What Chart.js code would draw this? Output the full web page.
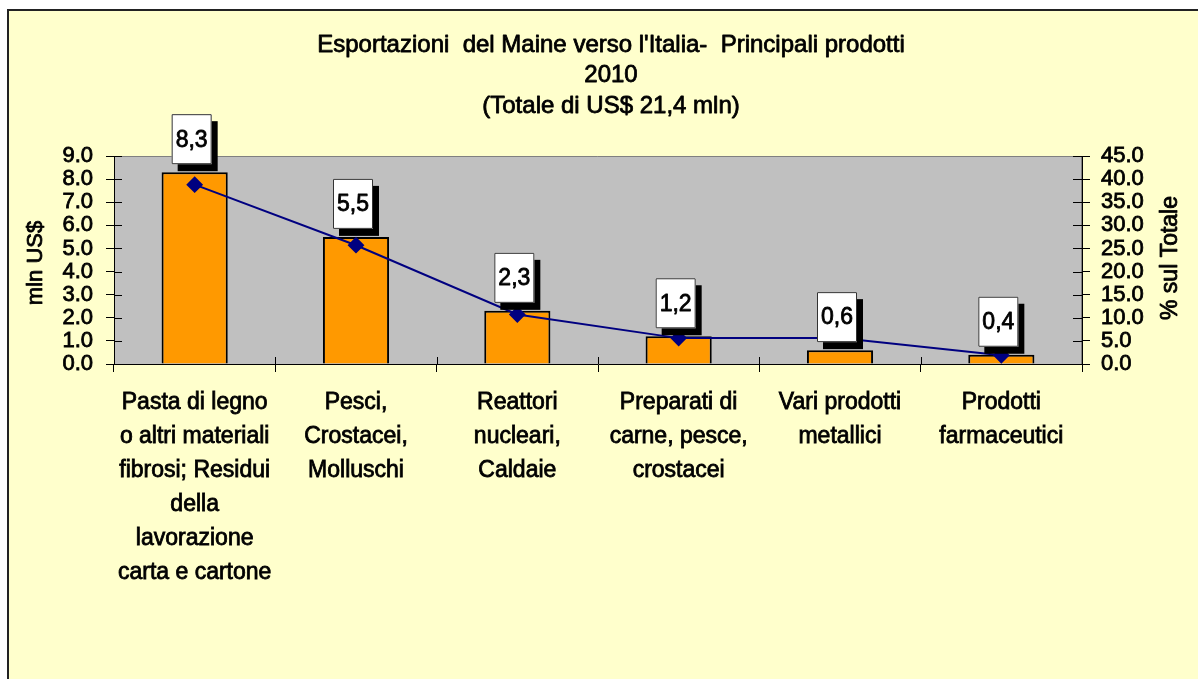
<!DOCTYPE html>
<html>
<head>
<meta charset="utf-8">
<title>Esportazioni del Maine verso l'Italia</title>
<script src="https://cdn.jsdelivr.net/npm/chart.js@4/dist/chart.umd.min.js"></script>
<style>
  html, body { margin: 0; padding: 0; background: #fff; }
  canvas { display: block; }
</style>
</head>
<body>
<canvas id="grafico" width="1198" height="679"></canvas>
<script>
// dati
const categorie = [
  ['Pasta di legno', 'o altri materiali', 'fibrosi; Residui', 'della', 'lavorazione', 'carta e cartone'],
  ['Pesci,', 'Crostacei,', 'Molluschi'],
  ['Reattori', 'nucleari,', 'Caldaie'],
  ['Preparati di', 'carne, pesce,', 'crostacei'],
  ['Vari prodotti', 'metallici'],
  ['Prodotti', 'farmaceutici']
]
const valoriMln = [8.3, 5.5, 2.3, 1.2, 0.6, 0.4]
const percentuali = [38.8, 25.7, 10.7, 5.6, 5.6, 1.9]
const etichette = ['8,3', '5,5', '2,3', '1,2', '0,6', '0,4']
const titolo = ["Esportazioni  del Maine verso l'Italia-  Principali prodotti", '2010', '(Totale di US$ 21,4 mln)']

const FONT = "'Liberation Sans', Arial, sans-serif"
const SPESSORE = 0.8 // ispessisce il testo come nell'originale

function testo(ctx, t, x, y) {
  ctx.strokeText(t, x, y)
  ctx.fillText(t, x, y)
}

// sfondo giallo, cornice e area del grafico grigia
const sfondo = {
  id: 'sfondo',
  beforeDraw(chart) {
    const ctx = chart.ctx
    const a = chart.chartArea
    ctx.save()
    ctx.fillStyle = '#fff'
    ctx.fillRect(0, 0, chart.width, chart.height)
    ctx.fillStyle = '#FFFFCC'
    ctx.fillRect(8, 10, chart.width - 8, chart.height - 10)
    ctx.strokeStyle = '#222'
    ctx.lineWidth = 2
    ctx.beginPath()
    ctx.moveTo(8, chart.height)
    ctx.lineTo(8, 10)
    ctx.lineTo(chart.width, 10)
    ctx.stroke()
    ctx.fillStyle = '#C0C0C0'
    ctx.fillRect(a.left, a.top, a.right - a.left, a.bottom - a.top)
    ctx.strokeStyle = '#808080'
    ctx.lineWidth = 1
    ctx.beginPath()
    ctx.moveTo(a.left, a.top + 0.5)
    ctx.lineTo(a.right - 0.5, a.top + 0.5)
    ctx.lineTo(a.right - 0.5, a.bottom)
    ctx.stroke()
    ctx.restore()
  }
}

// titolo, titoli degli assi, tacche interne, etichette dei valori
const extra = {
  id: 'extra',
  afterDraw(chart) {
    const ctx = chart.ctx
    const a = chart.chartArea
    ctx.save()
    ctx.fillStyle = '#000'
    ctx.textAlign = 'center'
    ctx.textBaseline = 'middle'
    ctx.lineJoin = 'round'
    ctx.font = '24px ' + FONT
    ctx.strokeStyle = '#000'
    ctx.lineWidth = SPESSORE
    titolo.forEach((t, i) => testo(ctx, t, 611, 45 + i * 30.5))

    ctx.font = '22px ' + FONT
    ctx.save()
    ctx.translate(36, 263)
    ctx.rotate(-Math.PI / 2)
    testo(ctx, 'mln US$', 0, 0)
    ctx.restore()
    ctx.font = '23px ' + FONT
    ctx.save()
    ctx.translate(1171, 258)
    ctx.rotate(-Math.PI / 2)
    testo(ctx, '% sul Totale', 0, 0)
    ctx.restore()

    // tacche verso l'interno
    ctx.lineWidth = 1
    ctx.beginPath()
    chart.scales.y.ticks.forEach(t => {
      const p = Math.round(chart.scales.y.getPixelForValue(t.value)) + 0.5
      ctx.moveTo(a.left, p); ctx.lineTo(a.left + 8, p)
    })
    chart.scales.y1.ticks.forEach(t => {
      const p = Math.round(chart.scales.y1.getPixelForValue(t.value)) + 0.5
      ctx.moveTo(a.right - 9, p); ctx.lineTo(a.right, p)
    })
    const x = chart.scales.x
    const passo = x.getPixelForTick(1) - x.getPixelForTick(0)
    for (let i = 0; i <= categorie.length; i++) {
      const p = Math.round(x.getPixelForTick(0) + (i - 0.5) * passo) + 0.5
      ctx.moveTo(p, a.bottom - 7); ctx.lineTo(p, a.bottom)
    }
    ctx.stroke()

    // caselle con i valori
    const barre = chart.getDatasetMeta(1).data
    ctx.font = '23px ' + FONT
    barre.forEach((b, i) => {
      const w = 40, h = 50
      const cx = b.x - 3
      const bottom = b.y - 8
      ctx.fillStyle = '#000'
      ctx.fillRect(cx - w / 2 + 6, bottom - h + 7, w, h)
      ctx.fillStyle = '#fff'
      ctx.fillRect(cx - w / 2, bottom - h, w, h)
      ctx.strokeStyle = '#333'
      ctx.lineWidth = 1
      ctx.strokeRect(cx - w / 2 + 0.5, bottom - h + 0.5, w - 1, h - 1)
      ctx.fillStyle = '#000'
      ctx.strokeStyle = '#000'
      ctx.lineWidth = SPESSORE
      testo(ctx, etichette[i], cx, bottom - h / 2 + 1)
    })
    ctx.restore()
  }
}

const assiY = (pos, max, step, w, pad) => ({
  type: 'linear',
  position: pos,
  min: 0,
  max: max,
  grid: { drawOnChartArea: false, color: '#000', tickLength: 8 },
  border: { color: '#000' },
  ticks: {
    stepSize: step,
    autoSkip: false,
    padding: pad,
    color: '#000',
    textStrokeColor: '#000',
    textStrokeWidth: SPESSORE,
    font: { family: FONT, size: 22 },
    callback: v => v.toFixed(1)
  },
  afterFit: s => { s.width = w }
})

new Chart(document.getElementById('grafico'), {
  data: {
    labels: categorie,
    datasets: [
      {
        type: 'line',
        label: '% sul Totale',
        data: percentuali,
        yAxisID: 'y1',
        order: 0,
        borderColor: '#000080',
        borderWidth: 2,
        pointStyle: 'rectRot',
        pointRadius: 7,
        pointBackgroundColor: '#000080',
        pointBorderColor: '#000080',
        tension: 0
      },
      {
        type: 'bar',
        label: 'mln US$',
        data: valoriMln,
        yAxisID: 'y',
        order: 1,
        backgroundColor: '#FF9900',
        borderColor: '#000',
        borderWidth: 2,
        categoryPercentage: 1,
        barPercentage: 0.41
      }
    ]
  },
  options: {
    responsive: false,
    animation: false,
    layout: { padding: { top: 156, left: 0, right: 0, bottom: 0 } },
    plugins: { legend: { display: false }, tooltip: { enabled: false } },
    scales: {
      x: {
        grid: { drawOnChartArea: false, color: '#000', tickLength: 8, offset: true },
        border: { color: '#000' },
        ticks: {
          autoSkip: false,
          maxRotation: 0,
          padding: 14,
          color: '#000',
          textStrokeColor: '#000',
          textStrokeWidth: SPESSORE,
          font: { family: FONT, size: 23, lineHeight: '34px' }
        },
        afterFit: s => { s.height = 315 }
      },
      y: assiY('left', 9, 1, 114, 13),
      y1: assiY('right', 45, 5, 116, 11)
    }
  },
  plugins: [sfondo, extra]
})
</script>
</body>
</html>
